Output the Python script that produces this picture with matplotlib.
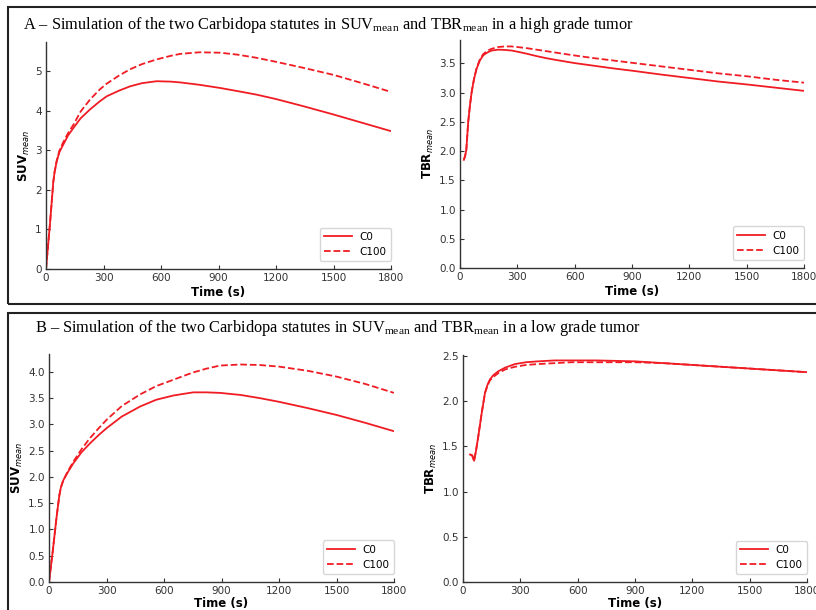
import matplotlib
matplotlib.use("Agg")
import matplotlib.pyplot as plt
from matplotlib.patches import Rectangle

plt.rcParams['mathtext.fontset'] = 'custom'
plt.rcParams['mathtext.rm'] = 'Liberation Serif'
plt.rcParams['mathtext.it'] = 'DejaVu Sans:italic'
plt.rcParams['mathtext.bf'] = 'DejaVu Sans:bold'

# ---- data ----
xticks = [0, 300, 600, 900, 1200, 1500, 1800]

# A, SUV high grade
t_a = [0, 10, 20, 30, 38, 45, 56, 70, 90, 115, 143, 180, 230, 280, 317, 380, 438, 500, 577,
       650, 700, 800, 908, 1000, 1100, 1200, 1350, 1500, 1650, 1800]
suv_a_c0 = [0, 0.55, 1.1, 1.7, 2.2, 2.45, 2.72, 2.95, 3.14, 3.37, 3.56, 3.8, 4.03, 4.23, 4.36, 4.5, 4.61, 4.69, 4.74,
            4.73, 4.71, 4.65, 4.57, 4.49, 4.40, 4.29, 4.10, 3.90, 3.69, 3.48]
suv_a_c100 = [0, 0.55, 1.1, 1.7, 2.2, 2.46, 2.74, 2.99, 3.2, 3.43, 3.64, 3.97, 4.28, 4.53, 4.68, 4.88, 5.04, 5.17, 5.29,
              5.38, 5.43, 5.47, 5.46, 5.41, 5.33, 5.23, 5.07, 4.9, 4.69, 4.47]

# A, TBR high grade
t_ar = [20, 27, 33, 43, 52, 61, 74, 87, 104, 122, 145, 166, 200, 235, 270, 300, 350, 400, 450, 500,
        600, 700, 800, 900, 1050, 1200, 1350, 1500, 1650, 1800]
tbr_a_c0 = [1.85, 1.92, 2.02, 2.5, 2.78, 3.01, 3.24, 3.41, 3.55, 3.64, 3.69, 3.72, 3.735, 3.73, 3.72, 3.70, 3.665, 3.625, 3.59, 3.56,
            3.505, 3.46, 3.415, 3.375, 3.31, 3.25, 3.19, 3.14, 3.085, 3.03]
tbr_a_c100 = [1.85, 1.92, 2.02, 2.5, 2.78, 3.01, 3.25, 3.42, 3.57, 3.66, 3.72, 3.75, 3.78, 3.79, 3.79, 3.78, 3.76, 3.735, 3.71, 3.685,
              3.635, 3.59, 3.55, 3.51, 3.45, 3.39, 3.33, 3.28, 3.22, 3.17]

# B, SUV low grade
t_b = [0, 20, 40, 54, 62, 75, 100, 127, 170, 214, 260, 301, 380, 475, 560, 649, 700, 753, 820,
       892, 1000, 1100, 1200, 1350, 1500, 1650, 1800]
suv_b_c0 = [0, 0.6, 1.25, 1.65, 1.8, 1.94, 2.1, 2.26, 2.47, 2.64, 2.8, 2.93, 3.15, 3.34, 3.47, 3.55, 3.58, 3.61, 3.61,
            3.60, 3.56, 3.50, 3.43, 3.31, 3.18, 3.03, 2.87]
suv_b_c100 = [0, 0.6, 1.25, 1.65, 1.8, 1.94, 2.12, 2.29, 2.53, 2.74, 2.93, 3.09, 3.35, 3.57, 3.73, 3.85, 3.92, 3.99, 4.06,
              4.12, 4.14, 4.13, 4.10, 4.02, 3.91, 3.77, 3.60]

# B, TBR low grade
t_br = [37, 48, 58, 68, 80, 98, 115, 128, 141, 160, 185, 220, 272, 330, 394, 480, 569, 700,
        900, 1050, 1200, 1350, 1500, 1650, 1800]
tbr_b_c0 = [1.41, 1.40, 1.34, 1.45, 1.61, 1.87, 2.09, 2.18, 2.24, 2.29, 2.33, 2.37, 2.41, 2.43, 2.44, 2.45, 2.45, 2.45,
            2.44, 2.42, 2.40, 2.38, 2.36, 2.34, 2.32]
tbr_b_c100 = [1.41, 1.40, 1.34, 1.45, 1.61, 1.87, 2.09, 2.17, 2.23, 2.27, 2.31, 2.35, 2.38, 2.40, 2.41, 2.42, 2.43, 2.43,
              2.43, 2.42, 2.40, 2.38, 2.36, 2.34, 2.32]

W, H = 816, 610
fig = plt.figure(figsize=(W / 100, H / 100), dpi=100)


def px_axes(x0, x1, ybot, ytop):
    return fig.add_axes([x0 / W, 1 - ybot / H, (x1 - x0) / W, (ybot - ytop) / H])


def style(ax, t, c0, c100, ylim, yticks, ylab, fmt, xpad=2):
    ax.plot(t, c0, color='#f01c24', lw=1.3, label='C0')
    ax.plot(t, c100, color='#f01c24', lw=1.3, ls='--', label='C100')
    ax.set_xlim(0, 1800)
    ax.set_ylim(*ylim)
    ax.set_xticks(xticks)
    ax.set_yticks(yticks)
    ax.set_yticklabels([fmt.format(v) for v in yticks])
    for s in ['top', 'right']:
        ax.spines[s].set_visible(False)
    for s in ['left', 'bottom']:
        ax.spines[s].set_color('#333333')
        ax.spines[s].set_linewidth(1.0)
    ax.tick_params(direction='in', length=3, labelsize=7.5, colors='#333333', pad=3)
    ax.set_xlabel('Time (s)', fontsize=8.5, fontweight='bold', labelpad=xpad)
    ax.set_ylabel(ylab, fontsize=8.5, fontweight='bold', labelpad=2)
    ax.legend(loc='lower right', bbox_to_anchor=(1.0, 0.035), borderaxespad=0,
              fontsize=7.5, handlelength=2.6, edgecolor='#cccccc')


ax1 = px_axes(46, 391, 269, 42)
style(ax1, t_a, suv_a_c0, suv_a_c100, (0, 5.73), [0, 1, 2, 3, 4, 5], 'SUV$_{mean}$', '{:.0f}')
ax2 = px_axes(460, 804, 268, 40)
style(ax2, t_ar, tbr_a_c0, tbr_a_c100, (0, 3.9), [0, 0.5, 1, 1.5, 2, 2.5, 3, 3.5], 'TBR$_{mean}$', '{:.1f}')
ax3 = px_axes(49, 394, 582, 354)
style(ax3, t_b, suv_b_c0, suv_b_c100, (0, 4.34), [0, 0.5, 1, 1.5, 2, 2.5, 3, 3.5, 4], 'SUV$_{mean}$', '{:.1f}', xpad=0.5)
ax4 = px_axes(463, 807, 582, 355)
style(ax4, t_br, tbr_b_c0, tbr_b_c100, (0, 2.51), [0, 0.5, 1, 1.5, 2, 2.5], 'TBR$_{mean}$', '{:.1f}', xpad=0.5)

# panel frames
for (y0, y1) in [(7, 304), (313, 618)]:
    fig.patches.append(Rectangle((8 / W, 1 - y1 / H), (820 - 8) / W, (y1 - y0) / H,
                                 transform=fig.transFigure, fill=False,
                                 edgecolor='#222222', lw=1.5, clip_on=False))

fig.text(23 / W, 1 - 29 / H,
         r'A – Simulation of the two Carbidopa statutes in SUV$_{\mathrm{mean}}$ and TBR$_{\mathrm{mean}}$ in a high grade tumor',
         fontfamily='Liberation Serif', fontsize=11.8, va='baseline', ha='left')
fig.text(35 / W, 1 - 332 / H,
         r'B – Simulation of the two Carbidopa statutes in SUV$_{\mathrm{mean}}$ and TBR$_{\mathrm{mean}}$ in a low grade tumor',
         fontfamily='Liberation Serif', fontsize=11.8, va='baseline', ha='left')

fig.savefig('out.png', dpi=100)
